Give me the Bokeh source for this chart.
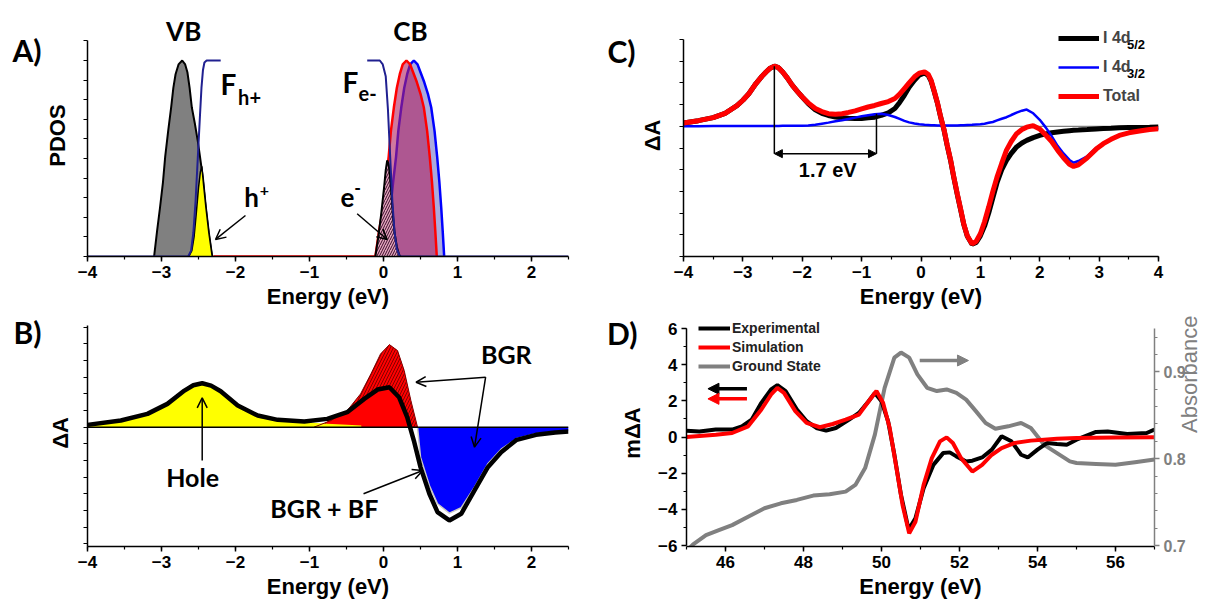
import math
import numpy as np
from bokeh.plotting import figure
from bokeh.layouts import column, row
from bokeh.models import (Label, Arrow, OpenHead, NormalHead, Span, Legend, LegendItem,
                          FixedTicker, LinearAxis, Range1d)
from bokeh.embed import file_html
from bokeh.resources import INLINE

# ---------------- Panel A : PDOS ----------------
a_vb_e = [-3.10, -3.06, -3.02, -2.98, -2.95, -2.91, -2.87, -2.84, -2.81, -2.77, -2.72, -2.68,
          -2.65, -2.62, -2.59, -2.55, -2.51, -2.48, -2.44, -2.40, -2.36, -2.315]
a_vb_y = [0.0, 0.13, 0.25, 0.38, 0.51, 0.64, 0.76, 0.86, 0.93, 0.98, 1.0, 0.98,
          0.94, 0.86, 0.76, 0.68, 0.59, 0.51, 0.40, 0.25, 0.12, 0.0]
a_h_e = [-2.63, -2.59, -2.56, -2.53, -2.50, -2.475, -2.455, -2.43, -2.40, -2.36, -2.315]
a_h_y = [0.0, 0.03, 0.10, 0.22, 0.35, 0.43, 0.46, 0.36, 0.25, 0.12, 0.0]
a_fh_e = [-4.0, -2.64, -2.60, -2.57, -2.54, -2.51, -2.48, -2.46, -2.44, -2.42, -2.39, -2.35, -2.2]
a_fh_y = [0.0, 0.0, 0.03, 0.12, 0.28, 0.50, 0.72, 0.86, 0.95, 0.99, 1.0, 1.0, 1.0]
a_fe_e = [-0.22, -0.05, -0.01, 0.03, 0.06, 0.09, 0.12, 0.15, 0.18, 0.22, 2.5]
a_fe_y = [1.0, 1.0, 0.98, 0.92, 0.75, 0.51, 0.28, 0.12, 0.04, 0.0, 0.0]
a_cbr_e = [-2.3, -0.11, -0.06, -0.005, 0.03, 0.07, 0.10, 0.14, 0.18, 0.22, 0.26, 0.31,
           0.36, 0.40, 0.45, 0.50, 0.545, 0.59, 0.625, 0.655, 0.68, 0.70, 0.72]
a_cbr_y = [0.0, 0.0, 0.13, 0.25, 0.38, 0.51, 0.64, 0.76, 0.86, 0.93, 0.98, 1.0,
           0.98, 0.94, 0.89, 0.83, 0.76, 0.64, 0.51, 0.38, 0.25, 0.13, 0.0]
a_cbb_e = [-0.01, 0.04, 0.095, 0.13, 0.17, 0.20, 0.24, 0.28, 0.32, 0.36, 0.41,
           0.46, 0.50, 0.55, 0.60, 0.645, 0.69, 0.725, 0.755, 0.78, 0.80, 0.82]
a_cbb_y = [0.0, 0.13, 0.25, 0.38, 0.51, 0.64, 0.76, 0.86, 0.93, 0.98, 1.0,
           0.98, 0.94, 0.89, 0.83, 0.76, 0.64, 0.51, 0.38, 0.25, 0.13, 0.0]
a_el_e = [-0.11, -0.07, -0.03, 0.01, 0.03, 0.05, 0.07, 0.09, 0.11, 0.13, 0.15, 0.18, 0.21, 0.23]
a_el_y = [0.0, 0.10, 0.22, 0.36, 0.44, 0.49, 0.47, 0.40, 0.30, 0.20, 0.12, 0.05, 0.01, 0.0]

# ---------------- Panel B : model dA ----------------
b_tot_e = [-4.0, -3.55, -3.19, -2.92, -2.69, -2.57, -2.45, -2.33, -2.2, -1.97, -1.7, -1.43, -1.07, -0.76,
           -0.49, -0.26, -0.08, 0.08, 0.21, 0.32, 0.41, 0.5, 0.62, 0.73, 0.89, 1.05, 1.23,
           1.41, 1.59, 1.8, 2.06, 2.32, 2.5]
b_tot_y = [0.07, 0.2, 0.4, 0.7, 1.1, 1.26, 1.32, 1.25, 1.08, 0.65, 0.35, 0.22, 0.17, 0.25,
           0.45, 0.85, 1.13, 1.2, 0.9, 0.3, -0.4, -1.2, -2.0, -2.55, -2.8, -2.6, -1.9,
           -1.2, -0.75, -0.38, -0.23, -0.16, -0.13]
b_hole_e = [-4.0, -3.55, -3.19, -2.92, -2.69, -2.57, -2.45, -2.33, -2.2, -1.97, -1.7, -1.43, -1.07,
            -0.76, -0.49, -0.3]
b_hole_y = [0.07, 0.2, 0.4, 0.7, 1.1, 1.26, 1.32, 1.25, 1.08, 0.65, 0.35, 0.22, 0.15,
            0.10, 0.07, 0.05]
b_red_e = [-0.76, -0.49, -0.26, -0.08, 0.08, 0.21, 0.32, 0.36]
b_red_y = [0.22, 0.45, 0.85, 1.13, 1.2, 0.9, 0.3, 0.0]
b_bgr_e = [-0.94, -0.71, -0.49, -0.31, -0.17, -0.04, 0.08, 0.19, 0.28, 0.37, 0.46]
b_bgr_y = [0.0, 0.2, 0.5, 1.0, 1.6, 2.2, 2.48, 2.3, 1.7, 0.8, 0.0]
b_neg_e = [0.46, 0.5, 0.62, 0.73, 0.89, 1.05, 1.23, 1.41, 1.59, 1.8, 2.06, 2.32, 2.5]
b_neg_y = [0.0, -0.9, -1.75, -2.3, -2.58, -2.42, -1.8, -1.1, -0.66, -0.34, -0.2, -0.14, -0.11]

# ---------------- Panel C : simulated components ----------------
c_e = [-4.0, -3.75, -3.5, -3.3, -3.1, -3.0, -2.9, -2.78, -2.68, -2.61, -2.54, -2.47, -2.40,
       -2.33, -2.25, -2.17, -2.08, -2.0, -1.9, -1.78, -1.67, -1.56, -1.44, -1.33, -1.22,
       -1.11, -1.0, -0.89, -0.78, -0.67, -0.55, -0.44, -0.36, -0.28, -0.2, -0.11, -0.03,
       0.06, 0.12, 0.17, 0.22, 0.28, 0.33, 0.39, 0.44, 0.5, 0.55, 0.61, 0.67, 0.72, 0.78,
       0.86, 0.93, 1.0, 1.07, 1.14, 1.21, 1.28, 1.36, 1.44, 1.52, 1.61, 1.7, 1.78, 1.89,
       2.0, 2.1, 2.2, 2.3, 2.4, 2.5, 2.57, 2.65, 2.8, 2.95, 3.07, 3.2, 3.34, 3.5, 3.68,
       3.85, 4.0]
c_total = [0.15, 0.26, 0.4, 0.6, 0.95, 1.2, 1.5, 1.97, 2.3, 2.5, 2.68, 2.77, 2.7,
           2.5, 2.22, 1.9, 1.6, 1.35, 1.08, 0.82, 0.68, 0.58, 0.56, 0.58, 0.64,
           0.71, 0.8, 0.89, 0.96, 1.05, 1.14, 1.28, 1.48, 1.74, 2.0, 2.28, 2.45,
           2.51, 2.4, 2.12, 1.65, 1.05, 0.45, -0.18, -0.85, -1.57, -2.3, -3.1, -3.85, -4.5, -5.05,
           -5.42, -5.3, -4.95, -4.4, -3.72, -3.0, -2.34, -1.7, -1.1, -0.7, -0.34, -0.15, -0.04, 0.03,
           -0.12, -0.4, -0.7, -1.1, -1.45, -1.75, -1.85, -1.78, -1.45, -1.05, -0.8, -0.6, -0.42, -0.3, -0.22,
           -0.15, -0.11]
c_d52 = [0.15, 0.26, 0.4, 0.6, 0.95, 1.2, 1.5, 1.97, 2.3, 2.5, 2.68, 2.77, 2.7,
         2.5, 2.22, 1.9, 1.6, 1.35, 1.05, 0.76, 0.6, 0.5, 0.43, 0.39, 0.37,
         0.36, 0.36, 0.39, 0.42, 0.5, 0.62, 0.82, 1.1, 1.43, 1.8, 2.12, 2.36,
         2.46, 2.35, 2.08, 1.62, 1.03, 0.43, -0.2, -0.87, -1.6, -2.33, -3.13, -3.88, -4.52, -5.07,
         -5.44, -5.35, -5.05, -4.6, -4.0, -3.3, -2.6, -2.0, -1.57, -1.25, -0.95, -0.77, -0.65, -0.52,
         -0.42, -0.35, -0.3, -0.26, -0.23, -0.2, -0.18, -0.17, -0.15, -0.12, -0.1, -0.09, -0.07, -0.06, -0.05,
         -0.04, -0.03]
c_d32 = [0.0, 0.0, 0.01, 0.01, 0.01, 0.01, 0.01, 0.01, 0.01, 0.01, 0.01, 0.01, 0.01,
         0.02, 0.02, 0.02, 0.02, 0.03, 0.04, 0.07, 0.12, 0.17, 0.23, 0.28, 0.34,
         0.4, 0.46, 0.51, 0.56, 0.58, 0.52, 0.43, 0.34, 0.25, 0.18, 0.13, 0.09,
         0.07, 0.06, 0.05, 0.05, 0.04, 0.04, 0.04, 0.04, 0.04, 0.04, 0.04, 0.05, 0.05, 0.06,
         0.07, 0.08, 0.09, 0.12, 0.16, 0.2, 0.27, 0.35, 0.42, 0.52, 0.63, 0.72, 0.77, 0.6,
         0.3, -0.05, -0.45, -0.9, -1.25, -1.55, -1.68, -1.6, -1.38, -1.0, -0.78, -0.58, -0.42, -0.3, -0.22,
         -0.15, -0.11]
c_labels = ["I 4d", "I 4d", "Total"]
c_subs = ["5/2", "3/2"]

# ---------------- Panel D : experiment ----------------
d_exp_e = [45.0, 45.33, 45.75, 46.17, 46.42, 46.67, 46.92, 47.17, 47.33, 47.54, 47.83, 48.08,
           48.33, 48.58, 48.83, 49.17, 49.42, 49.67, 49.83, 50.0, 50.17, 50.33, 50.5, 50.67,
           50.71, 50.87, 51.08, 51.33, 51.58, 51.75, 51.92, 52.17, 52.33, 52.58, 52.83, 53.08,
           53.33, 53.58, 53.75, 54.0, 54.25, 54.5, 54.75, 55.0, 55.5, 55.8, 56.3, 56.8, 57.0]
d_exp_y = [0.35, 0.31, 0.41, 0.41, 0.59, 0.96, 1.89, 2.63, 2.87, 2.54, 1.52, 0.87,
           0.5, 0.35, 0.5, 0.96, 1.33, 1.98, 2.44, 1.98, 0.87, -0.98, -3.2, -4.87,
           -5.06, -4.5, -2.83, -1.54, -0.89, -0.85, -1.07, -1.35, -1.31, -1.13, -0.7, 0.04,
           -0.24, -0.98, -1.13, -0.7, -0.33, -0.39, -0.43, -0.15, 0.28, 0.3, 0.17, 0.22, 0.41]
d_sim_e = [45.0, 45.75, 46.17, 46.58, 46.92, 47.17, 47.33, 47.5, 47.79, 48.08, 48.42, 48.75,
           49.08, 49.42, 49.67, 49.87, 50.04, 50.21, 50.37, 50.54, 50.71, 50.87, 51.08, 51.29,
           51.5, 51.67, 51.83, 52.04, 52.33, 52.58, 52.83, 53.08, 53.42, 53.83, 54.5, 55.0, 56.0, 57.0]
d_sim_y = [0.0, 0.13, 0.22, 0.59, 1.52, 2.35, 2.72, 2.44, 1.43, 0.78, 0.54, 0.72,
           0.96, 1.24, 1.98, 2.54, 1.89, 0.5, -1.54, -3.76, -5.33, -4.69, -2.65, -1.17,
           -0.24, -0.02, -0.33, -1.17, -1.91, -1.54, -0.98, -0.61, -0.33, -0.2, -0.09, -0.06, -0.03, -0.02]
d_gs_e = [45.1, 45.17, 45.5, 45.83, 46.17, 46.58, 47.0, 47.42, 47.83, 48.25, 48.67, 49.08,
          49.33, 49.58, 49.83, 50.08, 50.33, 50.5, 50.71, 50.92, 51.17, 51.42, 51.67, 51.92,
          52.17, 52.42, 52.67, 52.92, 53.25, 53.58, 53.83, 54.17, 54.5, 54.83, 55.0, 55.5,
          56.0, 56.5, 57.0]
d_gs_a = [0.698, 0.7013, 0.712, 0.7177, 0.7235, 0.7331, 0.7429, 0.7486, 0.7525, 0.7575, 0.759, 0.7621,
          0.7698, 0.7892, 0.8277, 0.8817, 0.9165, 0.9223, 0.9165, 0.8971, 0.8817, 0.8779, 0.8798, 0.8759,
          0.8681, 0.8548, 0.8412, 0.8346, 0.8373, 0.8412, 0.8354, 0.816, 0.8065, 0.7969, 0.795, 0.794,
          0.793, 0.796, 0.799]
d_labels = ["Experimental", "Simulation", "Ground State"]

# ---------------- styling helpers ----------------
AXF = "Liberation Sans"
ANF = "Lato"
NAVY = "#202090"
W1, W2 = 604, 613
H1, H2 = 313, 290
# shared borders (plots in one row / column get aligned frames)
TOP1, BOT1 = 14, 57     # top row
TOP2, BOT2 = 6, 57      # bottom row
LEFT1, RIGHT1 = 87, W1 - 568
LEFT2, RIGHT2 = 76, 59


def base_fig(w, h, xr, yr, bl, br, bt, bb):
    p = figure(width=w, height=h, x_range=xr, y_range=yr, output_backend="svg",
               toolbar_location=None, min_border_left=bl, min_border_right=br,
               min_border_top=bt, min_border_bottom=bb, title=None)
    p.outline_line_color = None
    p.xgrid.visible = False
    p.ygrid.visible = False
    return p


def style_axis(ax, ticks, minor, title="", color="black", standoff=3,
               tsize="22px", tstyle="bold", tcolor=None, lsize="17px", bounds=None):
    ax.ticker = FixedTicker(ticks=list(ticks), minor_ticks=list(minor))
    ax.axis_line_color = color
    ax.axis_line_width = 1.5
    ax.major_tick_line_color = color
    ax.major_tick_line_width = 1.5
    ax.minor_tick_line_color = color
    ax.minor_tick_line_width = 1.2
    ax.major_tick_in = 0
    ax.major_tick_out = 5
    ax.minor_tick_in = 0
    ax.minor_tick_out = 3 if len(ticks) else 4
    ax.major_label_text_font = AXF
    ax.major_label_text_font_style = "bold"
    ax.major_label_text_color = color
    ax.major_label_text_font_size = lsize
    ax.major_label_standoff = 4 if len(ticks) else 0
    ax.axis_label = title
    ax.axis_label_text_font = AXF
    ax.axis_label_text_font_style = tstyle
    ax.axis_label_text_font_size = tsize
    ax.axis_label_text_color = tcolor or color
    ax.axis_label_standoff = standoff
    if bounds is not None:
        ax.bounds = bounds


def corner_label(p, text, yv, standoff):
    # panel letter written as the single tick label of an extra, invisible left axis
    ax = LinearAxis(ticker=FixedTicker(ticks=[yv], minor_ticks=[]))
    ax.major_label_overrides = {yv: text}
    ax.axis_line_color = None
    ax.major_tick_line_color = None
    ax.minor_tick_line_color = None
    ax.major_tick_out = 0
    ax.major_tick_in = 0
    ax.minor_tick_out = 0
    ax.minor_tick_in = 0
    ax.major_label_standoff = standoff
    ax.major_label_text_font = ANF
    ax.major_label_text_font_style = "bold"
    ax.major_label_text_font_size = "30px"
    ax.major_label_text_color = "black"
    p.add_layout(ax, "left")


def lab(p, x, y, text, size, font=ANF, style="bold", color="black", align="center",
        baseline="middle"):
    p.add_layout(Label(x=x, y=y, text=text, text_font=font, text_font_size=size,
                       text_font_style=style, text_color=color, text_align=align,
                       text_baseline=baseline))


def arr(p, x0, y0, x1, y1, color="black", width=1.5, head="open", size=10):
    if head == "open":
        h = OpenHead(size=size, line_color=color, line_width=width)
    elif head == "normal":
        h = NormalHead(size=size, line_color=color, fill_color=color, line_width=1)
    else:
        h = None
    p.add_layout(Arrow(x_start=x0, y_start=y0, x_end=x1, y_end=y1, line_color=color,
                       line_width=width, end=h, start=None))


def minors(lo, hi, step):
    return np.round(np.arange(lo, hi + step / 2, step), 4).tolist()

# ================= Panel A =================
pA = base_fig(W1, H1, Range1d(-4, 2.5), Range1d(0, 242 / 196), LEFT1, RIGHT1, TOP1, BOT1)
pA.varea(x=a_vb_e, y1=0, y2=a_vb_y, fill_color="#808080")
pA.line(a_vb_e, a_vb_y, line_color="black", line_width=2)
pA.varea(x=a_h_e, y1=0, y2=a_h_y, fill_color="#ffff00")
pA.line(a_h_e, a_h_y, line_color="black", line_width=1.5)
pA.line(a_fh_e, a_fh_y, line_color=NAVY, line_width=2)
pA.varea(x=a_cbb_e, y1=0, y2=a_cbb_y, fill_color="#aaaadd")
pA.line(a_cbb_e, a_cbb_y, line_color="#0000ff", line_width=2.5)
pA.varea(x=a_cbr_e, y1=0, y2=a_cbr_y, fill_color="#b0205f", fill_alpha=0.6)
pA.line(a_cbr_e, a_cbr_y, line_color="#ff0000", line_width=2.5)
pA.varea(x=a_el_e, y1=0, y2=a_el_y, fill_color="#e3a6bd", hatch_pattern="/",
         hatch_color="#3a0a2a", hatch_scale=5, hatch_weight=1)
pA.line(a_el_e, a_el_y, line_color="black", line_width=2)
pA.line(a_fe_e, a_fe_y, line_color=NAVY, line_width=2)
style_axis(pA.xaxis[0], range(-4, 3), minors(-4, 2.5, 0.5), title="Energy (eV)", standoff=3)
style_axis(pA.yaxis[0], [], minors(0, 1.1, 0.1), title="PDOS", standoff=14, bounds=(0, 1.102))
corner_label(pA, "A)", 1.056, 0)
lab(pA, -2.70, 1.153, "VB", "26px")
lab(pA, 0.365, 1.153, "CB", "26px")
lab(pA, -2.095, 0.880, "F", "28px")
lab(pA, -1.81, 0.816, "h+", "20px")
lab(pA, -0.446, 0.888, "F", "28px")
lab(pA, -0.216, 0.83, "e-", "20px")
lab(pA, -1.784, 0.306, "h", "26px")
lab(pA, -1.61, 0.337, "+", "16px")
lab(pA, -0.486, 0.301, "e", "26px")
lab(pA, -0.35, 0.347, "-", "18px")
arr(pA, -1.865, 0.209, -2.27, 0.087)
arr(pA, -0.356, 0.218, 0.05, 0.087)

# ================= Panel B =================
pB = base_fig(W1, H2, Range1d(-4, 2.5), Range1d(-3.583, 3.234), LEFT1, RIGHT1, TOP2, BOT2)
pB.varea(x=b_bgr_e, y1=0, y2=b_bgr_y, fill_color="#ff0000", hatch_pattern="/",
         hatch_color="#600000", hatch_scale=6, hatch_weight=0.8)
pB.varea(x=b_red_e, y1=0, y2=b_red_y, fill_color="#ff0000")
pB.varea(x=b_hole_e, y1=0, y2=b_hole_y, fill_color="#ffff00")
pB.varea(x=b_neg_e, y1=b_neg_y, y2=0, fill_color="#0000ff")
pB.line(b_bgr_e, b_bgr_y, line_color="#800000", line_width=1)
pB.line(b_neg_e, b_neg_y, line_color="#c8c8c8", line_width=1.5)
pB.add_layout(Span(location=0, dimension="width", line_color="black", line_width=1.5))
pB.line(b_tot_e, b_tot_y, line_color="black", line_width=4.5)
style_axis(pB.xaxis[0], range(-4, 3), minors(-4, 2.5, 0.5), title="Energy (eV)", standoff=3)
style_axis(pB.yaxis[0], [], minors(-3.5, 3.0, 0.5), title="\u0394A", standoff=11,
           bounds=(-3.583, 3.054))
corner_label(pB, "B)", 2.9, 3)
lab(pB, 1.66, 2.2, "BGR", "25px")
lab(pB, -2.58, -1.5, "Hole", "25px")
lab(pB, -0.8, -2.44, "BGR + BF", "25px")
arr(pB, -2.45, -1.0, -2.45, 0.88)
arr(pB, -0.27, -2.0, 0.53, -1.3)
arr(pB, 1.38, 1.5, 0.44, 1.35)
arr(pB, 1.38, 1.5, 1.23, -0.6)

# ================= Panel C =================
pC = base_fig(W2, H1, Range1d(-4, 4), Range1d(-6, -6 + 242 / 21.7), LEFT2, RIGHT2, TOP1, BOT1)
pC.add_layout(Span(location=0, dimension="width", line_color="#808080", line_width=1.2,
                   level="underlay"))
rC_k = pC.line(c_e, c_d52, line_color="black", line_width=5)
rC_b = pC.line(c_e, c_d32, line_color="#0000ff", line_width=2.5)
rC_r = pC.line(c_e, c_total, line_color="#ff0000", line_width=5)
style_axis(pC.xaxis[0], range(-4, 5), minors(-4, 4, 0.5), title="Energy (eV)", standoff=3)
style_axis(pC.yaxis[0], [], minors(-6, 4, 1), title="\u0394A", standoff=15, bounds=(-6, 4))
corner_label(pC, "C)", 3.45, 1)
legC = Legend(items=[LegendItem(label=c_labels[0], renderers=[rC_k]),
                     LegendItem(label=c_labels[1], renderers=[rC_b]),
                     LegendItem(label=c_labels[2], renderers=[rC_r])],
              location=(375, 151), orientation="vertical", padding=0, margin=0, spacing=11,
              glyph_width=41, glyph_height=18, label_height=18, label_standoff=4,
              label_text_font=AXF, label_text_font_size="16px", label_text_font_style="bold",
              background_fill_alpha=0, border_line_color=None)
pC.add_layout(legC)
lab(pC, 3.47, 3.77, c_subs[0], "13px", font=AXF, align="left")
lab(pC, 3.47, 2.43, c_subs[1], "13px", font=AXF, align="left")
arr(pC, -2.47, 2.77, -2.47, -1.26, head=None)
arr(pC, -0.75, 0.58, -0.75, -1.26, head=None)
arr(pC, -1.6, -1.26, -2.47, -1.26, head="normal", size=8)
arr(pC, -1.6, -1.26, -0.75, -1.26, head="normal", size=8)
lab(pC, -1.57, -2.0, "1.7 eV", "20px", font=AXF)

# ================= Panel D =================
pD = base_fig(W2, H2, Range1d(45, 57), Range1d(-6.055, 6.498), LEFT2, RIGHT2, TOP2, BOT2)
pD.extra_y_ranges = {"abs": Range1d(0.7 - 0.055 / 48, 0.95 + 0.498 / 48)}
rD_g = pD.line(d_gs_e, d_gs_a, line_color="#808080", line_width=4, y_range_name="abs")
rD_k = pD.line(d_exp_e, d_exp_y, line_color="black", line_width=4)
rD_r = pD.line(d_sim_e, d_sim_y, line_color="#ff0000", line_width=4)
style_axis(pD.xaxis[0], [46, 48, 50, 52, 54, 56], minors(45, 57, 1), title="Energy (eV)", standoff=3)
style_axis(pD.yaxis[0], [-6, -4, -2, 0, 2, 4, 6], minors(-6, 6, 1), title="m\u0394A", standoff=10,
           bounds=(-6, 6))
corner_label(pD, "D)", 5.89, -20)
rax = LinearAxis(y_range_name="abs")
pD.add_layout(rax, "right")
style_axis(rax, [0.7, 0.8, 0.9], minors(0.7, 0.95, 0.02), title="Absorbance", color="#808080",
           standoff=1, tsize="22px", tstyle="normal", lsize="16px", bounds=(0.7, 0.95))
rax.axis_label_orientation = math.pi / 2
rax.axis_label_text_align = "center"
legD = Legend(items=[LegendItem(label=d_labels[0], renderers=[rD_k]),
                     LegendItem(label=d_labels[1], renderers=[rD_r]),
                     LegendItem(label=d_labels[2], renderers=[rD_g])],
              location=(12, 172), orientation="vertical", padding=0, margin=0, spacing=3,
              glyph_width=32, glyph_height=14, label_height=14, label_standoff=2,
              label_text_font=AXF, label_text_font_size="14px", label_text_font_style="bold",
              label_text_color="#222222", background_fill_alpha=0, border_line_color=None)
pD.add_layout(legD)
arr(pD, 46.55, 2.67, 45.55, 2.67, color="black", width=3.5, head="normal", size=11)
arr(pD, 46.55, 2.11, 45.55, 2.11, color="#ff0000", width=3.5, head="normal", size=11)
arr(pD, 50.98, 4.23, 52.23, 4.23, color="#808080", width=3.5, head="normal", size=11)

layout = column(row(pA, pC), row(pB, pD))
open("out.html", "w").write(file_html(layout, INLINE))
